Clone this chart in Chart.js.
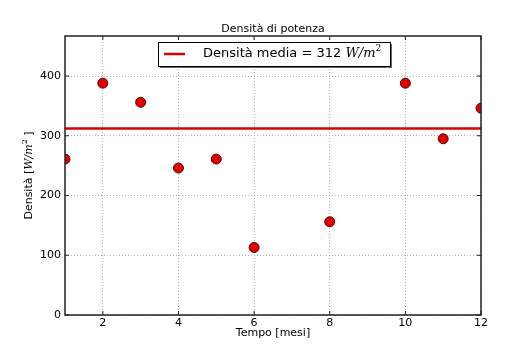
<!DOCTYPE html>
<html>
<head>
<meta charset="utf-8">
<script src="https://cdn.jsdelivr.net/npm/chart.js@4.4.0/dist/chart.umd.min.js"></script>
<style>
html, body { margin: 0; padding: 0; background: #fff; }
#wrap { width: 528px; height: 359px; }
</style>
</head>
<body>
<div id="wrap"><canvas id="chart" width="528" height="359"></canvas></div>
<script>
// Monthly power density (months 7 and 9 are missing in the source)
var months = [1, 2, 3, 4, 5, 6, 8, 10, 11, 12];
var density = [261, 388, 356, 246, 261, 113, 156, 388, 295, 346];
var meanDensity = 312;
var xTicks = [2, 4, 6, 8, 10, 12];
var yTicks = [0, 100, 200, 300, 400];

var sans = "'DejaVu Sans', sans-serif";
var serif = "'DejaVu Serif', serif";

// draws "prefix W/m^2 suffix" with math-style italic units
function drawMixed(ctx, x, y, size, prefix, suffix, align) {
    var parts = [
        {t: prefix, f: size + 'px ' + sans, dy: 0},
        {t: 'W/m', f: 'italic ' + size + 'px ' + serif, dy: 0},
        {t: '2', f: Math.round(size * 0.7) + 'px ' + serif, dy: -size * 0.4},
        {t: suffix, f: size + 'px ' + sans, dy: 0}
    ];
    var total = 0;
    parts.forEach(p => { ctx.font = p.f; p.w = ctx.measureText(p.t).width; total += p.w; });
    var cx = align === 'center' ? x - total / 2 : x;
    ctx.textAlign = 'left';
    ctx.textBaseline = 'middle';
    parts.forEach(p => {
        ctx.font = p.f;
        ctx.fillText(p.t, cx, y + p.dy);
        cx += p.w;
    });
}

var decor = {
    id: 'decor',
    afterDraw: function(chart) {
        var ctx = chart.ctx, a = chart.chartArea;
        var xs = chart.scales.x, ys = chart.scales.y;
        ctx.save();
        // frame
        ctx.strokeStyle = '#222';
        ctx.lineWidth = 1.5;
        ctx.strokeRect(a.left, a.top, a.right - a.left, a.bottom - a.top);
        // inner tick marks
        ctx.lineWidth = 1;
        ctx.beginPath();
        xTicks.forEach(v => {
            var px = xs.getPixelForValue(v);
            ctx.moveTo(px, a.bottom); ctx.lineTo(px, a.bottom - 4);
            ctx.moveTo(px, a.top); ctx.lineTo(px, a.top + 4);
        });
        yTicks.forEach(v => {
            var py = ys.getPixelForValue(v);
            ctx.moveTo(a.left, py); ctx.lineTo(a.left + 4, py);
            ctx.moveTo(a.right, py); ctx.lineTo(a.right - 4, py);
        });
        ctx.stroke();

        // legend box
        var lx = 158, ly = 42, lw = 232, lh = 24;
        ctx.fillStyle = '#666';
        ctx.fillRect(lx + 2, ly + 2, lw, lh);
        ctx.fillStyle = '#fff';
        ctx.fillRect(lx, ly, lw, lh);
        ctx.strokeStyle = '#000';
        ctx.lineWidth = 1;
        ctx.strokeRect(lx + 0.5, ly + 0.5, lw, lh);
        ctx.strokeStyle = '#dd0000';
        ctx.lineWidth = 2.5;
        ctx.beginPath();
        ctx.moveTo(164, ly + 12); ctx.lineTo(185, ly + 12);
        ctx.stroke();
        ctx.fillStyle = '#000';
        drawMixed(ctx, 203, ly + 12, 13, 'Densità media = ' + meanDensity + ' ', '', 'left');

        // y axis title
        ctx.translate(29, (a.top + a.bottom) / 2);
        ctx.rotate(-Math.PI / 2);
        drawMixed(ctx, 0, 0, 11, 'Densità [', ' ]', 'center');
        ctx.restore();
    }
};

var ctx = document.getElementById('chart').getContext('2d');
var chart = new Chart(ctx, {
    type: 'scatter',
    data: {
        datasets: [{
            label: 'Densità',
            data: months.map((m, i) => ({x: m, y: density[i]})),
            backgroundColor: '#e00000',
            borderColor: '#5a0000',
            borderWidth: 1,
            pointRadius: 5,
            clip: 0
        }, {
            type: 'line',
            label: 'Densità media',
            data: [{x: 1, y: meanDensity}, {x: 12, y: meanDensity}],
            borderColor: '#dd0000',
            borderWidth: 2.5,
            pointRadius: 0,
            fill: false,
            clip: 0
        }]
    },
    options: {
        responsive: false,
        animation: false,
        devicePixelRatio: 1,
        layout: {padding: {left: 0, right: 47, top: 0, bottom: 0}},
        plugins: {
            legend: {display: false},
            tooltip: {enabled: false},
            title: {
                display: true,
                fullSize: false,
                text: 'Densità di potenza',
                color: '#000',
                font: {family: sans, size: 11, weight: 'normal'},
                padding: {top: 22.8, bottom: 0}
            }
        },
        scales: {
            x: {
                type: 'linear',
                min: 1,
                max: 12,
                afterBuildTicks: s => { s.ticks = xTicks.map(v => ({value: v})); },
                afterFit: s => { s.height = 44; },
                grid: {color: '#b0b0b0', drawTicks: false, lineWidth: 1},
                border: {display: false, dash: [1, 2]},
                ticks: {color: '#000', font: {family: sans, size: 11}, padding: 2, maxRotation: 0, autoSkip: false},
                title: {display: true, text: 'Tempo [mesi]', color: '#000', font: {family: sans, size: 11}, padding: {top: 0, bottom: 19}}
            },
            y: {
                min: 0,
                max: 467,
                afterBuildTicks: s => { s.ticks = yTicks.map(v => ({value: v})); },
                afterFit: s => { s.width = 65; },
                grid: {color: '#b0b0b0', drawTicks: false, lineWidth: 1},
                border: {display: false, dash: [1, 2]},
                ticks: {color: '#000', font: {family: sans, size: 11}, padding: 4}
            }
        }
    },
    plugins: [decor]
});
</script>
</body>
</html>
